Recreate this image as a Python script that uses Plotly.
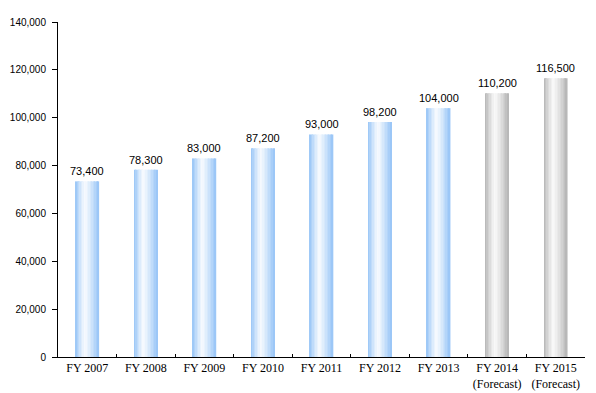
import plotly.graph_objects as go

categories = ["FY 2007", "FY 2008", "FY 2009", "FY 2010", "FY 2011", "FY 2012", "FY 2013",
              "FY 2014<br>(Forecast)", "FY 2015<br>(Forecast)"]
values = [73400, 78300, 83000, 87200, 93000, 98200, 104000, 110200, 116500]
is_forecast = [False] * 7 + [True] * 2
value_labels = ["73,400", "78,300", "83,000", "87,200", "93,000", "98,200", "104,000", "110,200", "116,500"]

BAR_W = 0.4
N = 16
blue_edge = (150, 196, 246)
gray_edge = (180, 180, 180)
white = (255, 255, 255)


def mix(c, f):
    return "rgb(%d,%d,%d)" % tuple(round(w + (e - w) * f) for e, w in zip(c, white))


fig = go.Figure()
for i in range(N):
    t = (i + 0.5) / N
    peak = 0.42
    f = (peak - t) / peak if t < peak else (t - peak) / (1 - peak)
    f = min(1.0, max(0.0, f)) ** 1.2
    f = 0.08 + 0.92 * f
    colors = [mix(gray_edge if fc else blue_edge, f) for fc in is_forecast]
    fig.add_trace(go.Bar(
        x=categories, y=values, width=BAR_W / N + 0.002,
        offset=-BAR_W / 2 + i * BAR_W / N,
        marker=dict(color=colors, line=dict(width=0)),
        hoverinfo="skip", showlegend=False,
    ))

for cat, val, lab in zip(categories, values, value_labels):
    fig.add_annotation(
        x=cat, y=val, text=lab, showarrow=False,
        xanchor="center", yanchor="bottom", yshift=2,
        font=dict(family="Liberation Sans", size=11, color="#000000"),
    )

# page body has an 8px default margin; size the figure to fill the 596x393 window
fig.update_layout(
    width=588, height=385,
    barmode="overlay",
    paper_bgcolor="white", plot_bgcolor="white",
    margin=dict(l=50, r=11, t=14, b=36, autoexpand=False),
    font=dict(family="Liberation Serif", size=12, color="#000000"),
)
fig.update_xaxes(
    showline=True, linecolor="#000000", linewidth=1,
    ticks="inside", tickson="boundaries", ticklen=3, tickcolor="#000000",
    showgrid=False, tickfont=dict(family="Liberation Serif", size=12),
    automargin=False,
)
fig.update_yaxes(
    range=[0, 140000], dtick=20000, tickformat=",d",
    showline=True, linecolor="#000000", linewidth=1,
    ticks="outside", ticklen=5, tickcolor="#000000",
    showgrid=False, zeroline=False,
    tickfont=dict(family="Liberation Sans", size=10),
    ticklabelstandoff=4,
    automargin=False,
)

fig.write_html("out.html")
